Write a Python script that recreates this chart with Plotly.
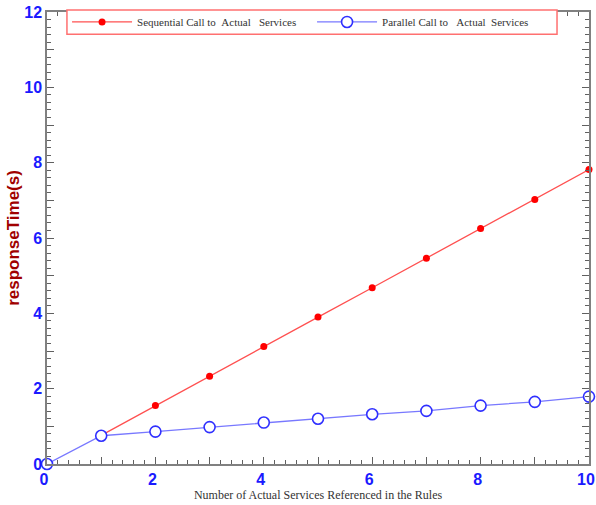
import plotly.graph_objects as go

x_seq = [1, 2, 3, 4, 5, 6, 7, 8, 9, 10]
y_seq = [0.76, 1.55, 2.33, 3.12, 3.90, 4.68, 5.46, 6.25, 7.02, 7.82]
x_par = [0, 1, 2, 3, 4, 5, 6, 7, 8, 9, 10]
y_par = [0.0, 0.75, 0.86, 0.98, 1.10, 1.20, 1.32, 1.41, 1.55, 1.65, 1.79]

name_seq = "Sequential Call to \u00a0Actual \u00a0\u00a0Services"
name_par = "Parallel Call to \u00a0\u00a0Actual \u00a0Services"

fig = go.Figure()
fig.add_trace(go.Scatter(
    x=x_seq, y=y_seq, name=name_seq, mode="lines+markers",
    line=dict(color="#ff5050", width=1.3),
    marker=dict(color="#ff0000", size=7, symbol="circle"),
    cliponaxis=False,
))
fig.add_trace(go.Scatter(
    x=x_par, y=y_par, name=name_par, mode="lines+markers",
    line=dict(color="#7878ff", width=1.3),
    marker=dict(color="white", size=11, symbol="circle",
                line=dict(color="#3030ff", width=1.6)),
    cliponaxis=False,
))

axis_common = dict(
    showgrid=False, zeroline=False, automargin=False,
    showline=True, linecolor="#808080", linewidth=1.5, mirror="ticks",
    ticks="inside", ticklen=7, tickcolor="#606060", tickwidth=1,
    dtick=1, tick0=0, ticklabelstep=2, ticklabeloverflow="allow",
    minor=dict(ticks="inside", ticklen=4, dtick=0.2, tick0=0,
               tickcolor="#606060", showgrid=False),
    tickfont=dict(family="Liberation Sans, Arial", size=16, color="#1a1aff", weight="bold"),
)

fig.update_xaxes(
    range=[0, 10], **axis_common, ticklabelshift=-3,
    title=dict(text="Number of Actual Services Referenced in the Rules",
               font=dict(family="Liberation Serif, Times New Roman", size=12, color="#333333"),
               standoff=2),
)
fig.update_yaxes(
    range=[0, 12], **axis_common,
    title=dict(text="responseTime(s)",
               font=dict(family="Liberation Sans, Arial", size=17, color="#a00000", weight="bold"),
               standoff=0),
)

# legend frame (white box with light-red border, covering the top ticks)
fig.add_shape(
    type="rect", xref="paper", yref="paper",
    x0=0.0368, x1=0.941, y0=0.951, y1=1.0044,
    line=dict(color="#ff7070", width=1.5), fillcolor="white", layer="above",
)

fig.update_layout(
    width=596, height=505,
    margin=dict(l=47, r=7, t=12, b=41),
    paper_bgcolor="white", plot_bgcolor="white",
    showlegend=True,
    legend=dict(
        orientation="h", x=0.037, y=0.978, xanchor="left", yanchor="middle",
        bgcolor="rgba(0,0,0,0)", borderwidth=0,
        font=dict(family="Liberation Serif, Times New Roman", size=11, color="#333333"),
        entrywidth=170, entrywidthmode="pixels",
        itemwidth=60, tracegroupgap=0,
    ),
)

fig.write_html(
    "out.html",
    config={"displayModeBar": False},
    post_script="document.body.style.margin='0';document.body.style.overflow='hidden';",
)
